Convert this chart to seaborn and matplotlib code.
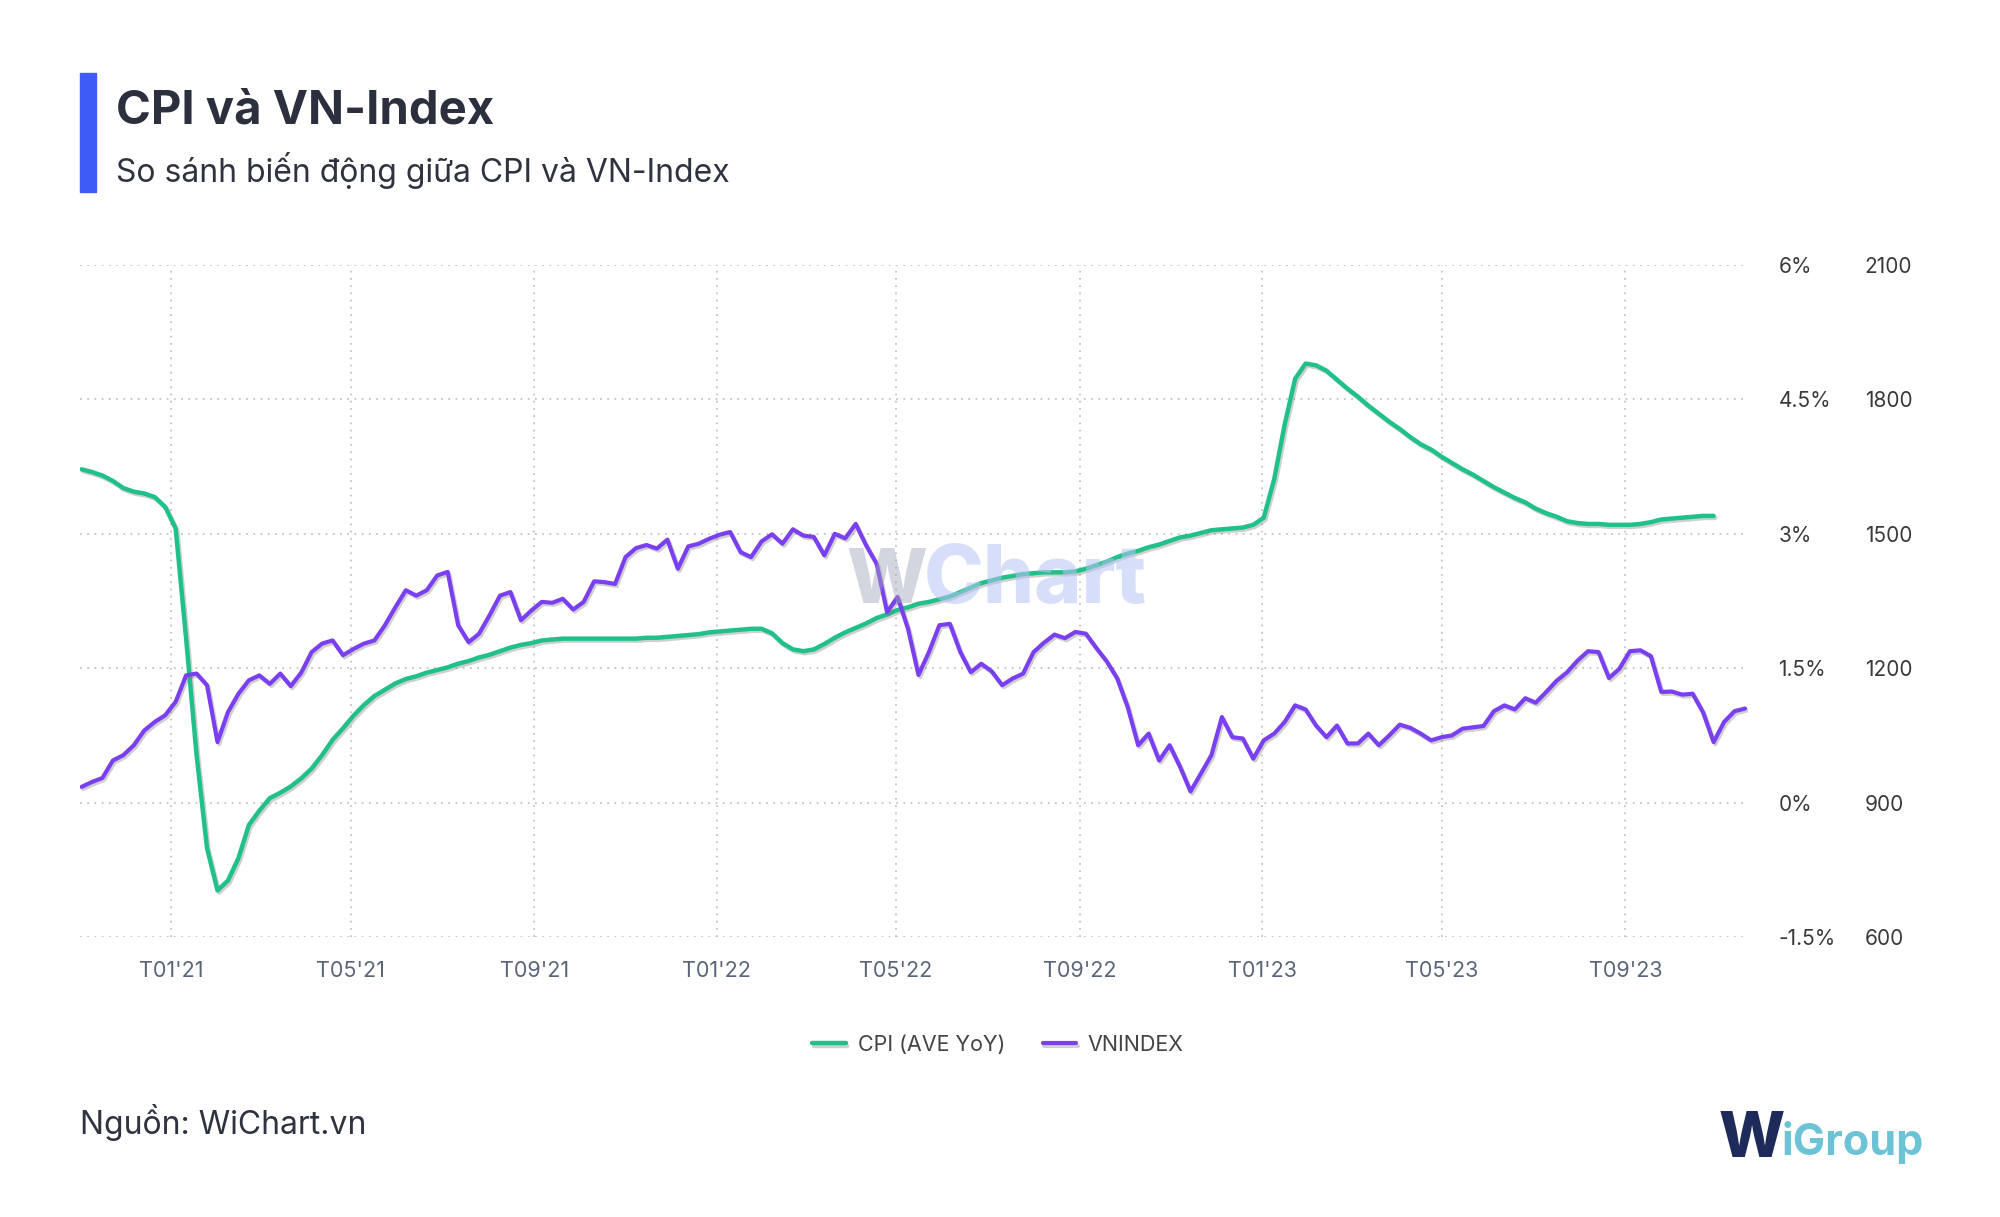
import matplotlib
matplotlib.use("Agg")
import matplotlib.dates as mdates
import matplotlib.patheffects as pe
import matplotlib.pyplot as plt
import pandas as pd
import seaborn as sns
from matplotlib.patches import Rectangle
from matplotlib.ticker import FixedLocator, FuncFormatter

# Weekly samples (Mondays)
first_week = "2020-11-02"

vnindex = [
    935, 946, 955, 994, 1006, 1028, 1061, 1080, 1095, 1125,
    1184, 1188, 1162, 1035, 1102, 1143, 1173, 1184, 1165, 1188,
    1160, 1190, 1236, 1255, 1262, 1229, 1243, 1255, 1262, 1296,
    1336, 1374, 1362, 1374, 1407, 1415, 1296, 1258, 1277, 1318,
    1362, 1370, 1307, 1329, 1348, 1346, 1355, 1331, 1348, 1394,
    1392, 1388, 1448, 1468, 1475, 1467, 1487, 1422, 1472, 1478,
    1489, 1498, 1504, 1459, 1448, 1483, 1499, 1478, 1510, 1496,
    1493, 1452, 1500, 1490, 1522, 1474, 1433, 1325, 1359, 1288,
    1185, 1236, 1296, 1299, 1236, 1191, 1210, 1193, 1162, 1177,
    1188, 1236, 1257, 1275, 1267, 1281, 1277, 1245, 1215, 1177,
    1113, 1028, 1054, 994, 1028, 980, 925, 965, 1006, 1091,
    1046, 1043, 998, 1039, 1054, 1080, 1117, 1108, 1072, 1046,
    1072, 1032, 1032, 1054, 1028, 1050, 1074, 1067, 1054, 1039,
    1046, 1050, 1065, 1068, 1071, 1104, 1117, 1108, 1133, 1123,
    1147, 1172, 1191, 1217, 1238, 1236, 1178, 1199, 1238, 1240,
    1227, 1147, 1148, 1141, 1143, 1101, 1035, 1080, 1104, 1110,
]

cpi_ave_yoy = [
    3.72, 3.69, 3.65, 3.59, 3.51, 3.47, 3.45, 3.41, 3.30, 3.06,
    1.83, 0.53, -0.51, -0.98, -0.87, -0.62, -0.25, -0.09, 0.05, 0.11,
    0.18, 0.27, 0.38, 0.53, 0.70, 0.83, 0.97, 1.09, 1.19, 1.26,
    1.33, 1.38, 1.41, 1.45, 1.48, 1.51, 1.55, 1.58, 1.62, 1.65,
    1.69, 1.73, 1.76, 1.78, 1.81, 1.82, 1.83, 1.83, 1.83, 1.83,
    1.83, 1.83, 1.83, 1.83, 1.84, 1.84, 1.85, 1.86, 1.87, 1.88,
    1.90, 1.91, 1.92, 1.93, 1.94, 1.94, 1.89, 1.78, 1.71, 1.69,
    1.71, 1.77, 1.84, 1.90, 1.95, 2.00, 2.06, 2.10, 2.15, 2.18,
    2.22, 2.24, 2.27, 2.30, 2.35, 2.40, 2.45, 2.48, 2.51, 2.53,
    2.55, 2.56, 2.57, 2.57, 2.57, 2.58, 2.61, 2.65, 2.69, 2.74,
    2.78, 2.81, 2.85, 2.88, 2.92, 2.96, 2.98, 3.01, 3.04, 3.05,
    3.06, 3.07, 3.10, 3.18, 3.61, 4.22, 4.73, 4.90, 4.88, 4.82,
    4.72, 4.62, 4.53, 4.43, 4.34, 4.25, 4.17, 4.08, 4.00, 3.94,
    3.86, 3.79, 3.72, 3.66, 3.59, 3.52, 3.46, 3.40, 3.35, 3.28,
    3.23, 3.19, 3.14, 3.12, 3.11, 3.11, 3.10, 3.10, 3.10, 3.11,
    3.13, 3.16, 3.17, 3.18, 3.19, 3.20, 3.20,
]

cpi_ticks = [-1.5, 0, 1.5, 3, 4.5, 6]
vn_ticks = [600, 900, 1200, 1500, 1800, 2100]

GREEN = "#20c08a"
PURPLE = "#7b3ff2"

vn_df = pd.DataFrame({
    "date": pd.date_range(first_week, periods=len(vnindex), freq="7D"),
    "value": vnindex,
})
cpi_df = pd.DataFrame({
    "date": pd.date_range(first_week, periods=len(cpi_ave_yoy), freq="7D"),
    "value": cpi_ave_yoy,
})

sns.set_theme(style="white")
plt.rcParams["font.family"] = ["Inter", "DejaVu Sans"]

W, H = 2000, 1217
fig = plt.figure(figsize=(W / 100, H / 100), dpi=100)
ax = fig.add_axes([80 / W, 1 - 937 / H, (1748 - 80) / W, (937 - 265) / H])
ax2 = ax.twinx()

shadow = [pe.SimpleLineShadow(offset=(1.2, -1.5), shadow_color="#777777", alpha=0.35), pe.Normal()]

sns.lineplot(data=cpi_df, x="date", y="value", ax=ax, color=GREEN, linewidth=3.2,
             label="CPI (AVE YoY)")
sns.lineplot(data=vn_df, x="date", y="value", ax=ax2, color=PURPLE, linewidth=3.0,
             label="VNINDEX")
for line in ax.get_lines() + ax2.get_lines():
    line.set_path_effects(shadow)
    line.set_solid_joinstyle("round")

handles = ax.get_legend_handles_labels()[0] + ax2.get_legend_handles_labels()[0]
labels = ax.get_legend_handles_labels()[1] + ax2.get_legend_handles_labels()[1]
for a in (ax, ax2):
    if a.get_legend() is not None:
        a.get_legend().remove()

ax.set_xlim(pd.Timestamp("2020-11-01"), pd.Timestamp("2023-11-22"))
ax.set_ylim(-1.5, 6)
ax2.set_ylim(600, 2100)

ax.xaxis.set_major_locator(mdates.MonthLocator(bymonth=[1, 5, 9]))
ax.xaxis.set_major_formatter(FuncFormatter(
    lambda v, _: "T{:02d}'{:02d}".format(mdates.num2date(v).month, mdates.num2date(v).year % 100)))
ax.yaxis.set_major_locator(FixedLocator(cpi_ticks))
ax.yaxis.set_major_formatter(FuncFormatter(lambda v, _: f"{v:g}%"))
ax2.yaxis.set_major_locator(FixedLocator(vn_ticks))

ax.yaxis.tick_right()
ax.tick_params(axis="y", length=0, pad=22, labelsize=15, labelcolor="#3a3a3a")
ax2.tick_params(axis="y", length=0, pad=84, labelsize=15, labelcolor="#3a3a3a")
ax.tick_params(axis="x", length=0, pad=17, labelsize=15.5, labelcolor="#5b6579")
for lab in ax.get_yticklabels() + ax2.get_yticklabels():
    lab.set_horizontalalignment("left")

ax.set_xlabel("")
ax.set_ylabel("")
ax2.set_ylabel("")
ax.grid(True, linestyle=(0, (1, 3)), color="#c4c4c4", linewidth=1.3)
ax2.grid(False)
for a in (ax, ax2):
    for s in a.spines.values():
        s.set_visible(False)

# header
fig.patches.append(Rectangle((80 / W, 1 - 192 / H), 16 / W, 119 / H,
                             transform=fig.transFigure, color="#3d5cf5"))
fig.text(116 / W, 1 - 124 / H, "CPI và VN-Index", fontsize=34, weight="bold",
         color="#2b2f3e", va="baseline")
fig.text(116 / W, 1 - 182 / H, "So sánh biến động giữa CPI và VN-Index", fontsize=23,
         color="#2f3340", va="baseline")

# watermark
fig.text(846 / W, 1 - 603 / H, "W", fontsize=55, weight="heavy", color="#9ea2b8",
         alpha=0.45, va="baseline")
fig.text(924 / W, 1 - 603 / H, "Chart", fontsize=58, weight="heavy", color="#b7c4f5",
         alpha=0.55, va="baseline")

fig.legend(handles, labels, loc="center", bbox_to_anchor=(0.499, 1 - 1045 / H), ncol=2,
           frameon=False, fontsize=15.5, handlelength=1.55, handletextpad=0.55,
           columnspacing=1.75, labelcolor="#444444")

# footer
fig.text(80 / W, 1 - 1134 / H, "Nguồn: WiChart.vn", fontsize=23, color="#2f3340",
         va="baseline")
fig.text(1719 / W, 1 - 1157 / H, "W", fontsize=45, weight="heavy", color="#1e2a5a",
         va="baseline")
fig.text(1782 / W, 1 - 1155 / H, "iGroup", fontsize=31, weight="bold", color="#6cc3d5",
         va="baseline")

fig.savefig("out.png", dpi=100, facecolor="white")
